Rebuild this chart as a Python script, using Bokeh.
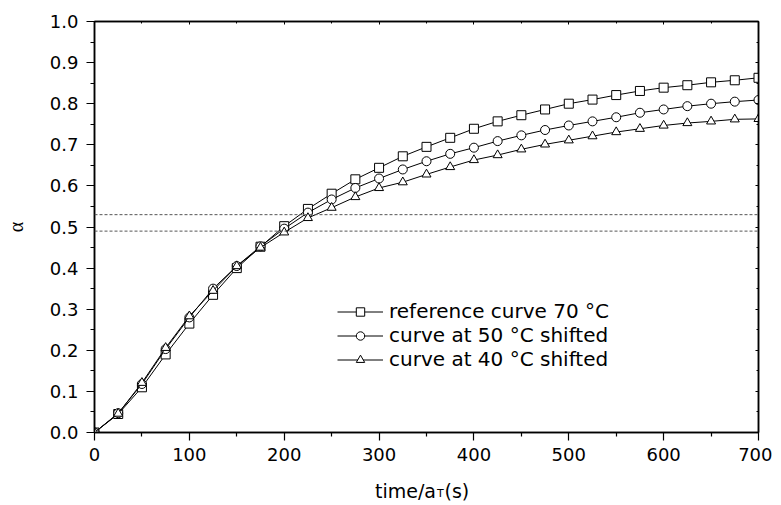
from bokeh.plotting import figure
from bokeh.layouts import column
from bokeh.models import (Range1d, Span, Label, Legend, LegendItem, LinearAxis,
                          FixedTicker, PrintfTickFormatter)
from bokeh.embed import file_html
from bokeh.resources import INLINE

time_s = [0, 25, 50, 75, 100, 125, 150, 175, 200, 225, 250, 275, 300, 325, 350,
          375, 400, 425, 450, 475, 500, 525, 550, 575, 600, 625, 650, 675, 700]
ref_70 = [0.0, 0.045, 0.110, 0.190, 0.265, 0.335, 0.400, 0.452, 0.502, 0.544,
          0.581, 0.616, 0.644, 0.672, 0.695, 0.717, 0.739, 0.757, 0.772, 0.786,
          0.800, 0.810, 0.821, 0.831, 0.839, 0.845, 0.852, 0.857, 0.863]
shift_50 = [0.0, 0.047, 0.118, 0.203, 0.280, 0.350, 0.405, 0.453, 0.496, 0.535,
            0.567, 0.595, 0.618, 0.640, 0.660, 0.678, 0.693, 0.709, 0.723, 0.736,
            0.747, 0.757, 0.767, 0.778, 0.786, 0.794, 0.800, 0.805, 0.809]
shift_40 = [0.0, 0.046, 0.121, 0.206, 0.283, 0.345, 0.405, 0.450, 0.487, 0.522,
            0.547, 0.573, 0.595, 0.609, 0.628, 0.646, 0.663, 0.675, 0.689, 0.701,
            0.711, 0.721, 0.731, 0.739, 0.747, 0.753, 0.757, 0.762, 0.763]
hlines = [0.53, 0.49]
labels = ["reference curve 70 °C", "curve at 50 °C shifted", "curve at 40 °C shifted"]
x_ticks = [0, 100, 200, 300, 400, 500, 600, 700]
x_minor = [50, 150, 250, 350, 450, 550, 650]
y_ticks = [0.0, 0.1, 0.2, 0.3, 0.4, 0.5, 0.6, 0.7, 0.8, 0.9, 1.0]
y_minor = [0.05, 0.15, 0.25, 0.35, 0.45, 0.55, 0.65, 0.75, 0.85, 0.95]
x_title = ["time/a", "T", "(s)"]

FONT = "DejaVu Sans"

p = figure(width=772, height=470, output_backend="svg", toolbar_location=None,
           x_range=Range1d(0, 700), y_range=Range1d(0, 1.0),
           min_border_left=94, min_border_right=14, min_border_top=21,
           min_border_bottom=38)
p.background_fill_color = "white"
p.border_fill_color = "white"
p.outline_line_color = "black"
p.outline_line_width = 1.5
p.grid.visible = False

xa = p.xaxis[0]
ya = p.yaxis[0]
xa.ticker = FixedTicker(ticks=x_ticks, minor_ticks=x_minor)
ya.ticker = FixedTicker(ticks=y_ticks, minor_ticks=y_minor)
ya.formatter = PrintfTickFormatter(format="%.1f")
for ax in (xa, ya):
    ax.major_tick_out = 8
    ax.major_tick_in = 0
    ax.minor_tick_out = 4
    ax.minor_tick_in = 0
    ax.axis_line_color = "black"
    ax.axis_line_width = 1.5
    ax.major_tick_line_width = 1.2
    ax.minor_tick_line_width = 1.2
    ax.major_label_text_font = FONT
    ax.major_label_text_font_size = "18px"
    ax.major_label_text_color = "black"
xa.major_label_standoff = 7
ya.major_label_standoff = 8
ya.axis_label = "α"
ya.axis_label_text_font = "Liberation Serif"
ya.axis_label_text_font_style = "normal"
ya.axis_label_text_font_size = "20px"
ya.axis_label_text_color = "black"
ya.axis_label_standoff = 20
xa.axis_label = None

# right and top frame axes: small inward ticks only
ra = LinearAxis(ticker=FixedTicker(ticks=y_ticks, minor_ticks=y_minor),
                major_label_text_font_size="0px", major_label_standoff=0,
                major_tick_in=3, major_tick_out=0,
                minor_tick_in=2, minor_tick_out=0, axis_line_width=1.5)
ta = LinearAxis(ticker=FixedTicker(ticks=x_ticks, minor_ticks=x_minor),
                major_label_text_font_size="0px", major_label_standoff=0,
                major_tick_in=3, major_tick_out=0,
                minor_tick_in=2, minor_tick_out=0, axis_line_width=1.5)
p.add_layout(ra, "right")
p.add_layout(ta, "above")

for h in hlines:
    p.add_layout(Span(location=h, dimension="width", line_color="#555555",
                      line_dash="3 2", line_width=1))

series = [(ref_70, "square"), (shift_50, "circle"), (shift_40, "triangle")]
items = []
for (vals, mk), lab in zip(series, labels):
    ln = p.line(time_s, vals, line_color="black", line_width=1)
    sc = p.scatter(time_s, vals, marker=mk, size=9, line_color="black",
                   fill_color="white", line_width=1)
    items.append(LegendItem(label=lab, renderers=[ln, sc]))

legend = Legend(items=items, location=(243, 61), glyph_width=46, glyph_height=21,
                label_height=21, spacing=0, padding=0, margin=0,
                label_text_font=FONT, label_text_font_size="20px",
                label_text_color="black",
                label_standoff=6, border_line_color=None, background_fill_alpha=0)
p.add_layout(legend, "center")

# strip below the plot carrying the x-axis title (with subscript)
q = figure(width=772, height=34, output_backend="svg", toolbar_location=None,
           x_range=p.x_range, y_range=Range1d(0, 1),
           x_axis_location=None, y_axis_location=None,
           min_border_left=94, min_border_right=14, min_border_top=0,
           min_border_bottom=0)
q.outline_line_color = None
q.grid.visible = False
q.background_fill_color = "white"
q.border_fill_color = "white"
q.add_layout(Label(x=360, y=0.40, text=x_title[0],
                   text_font=FONT, text_font_size="19px", text_align="right",
                   text_baseline="alphabetic", text_color="black"))
q.add_layout(Label(x=361, y=0.31, text=x_title[1],
                   text_font=FONT, text_font_size="11px", text_align="left",
                   text_baseline="alphabetic", text_color="black"))
q.add_layout(Label(x=369, y=0.40, text=x_title[2],
                   text_font=FONT, text_font_size="19px", text_align="left",
                   text_baseline="alphabetic", text_color="black"))

layout = column(p, q, spacing=0)
open("out.html", "w").write(file_html(layout, INLINE))
